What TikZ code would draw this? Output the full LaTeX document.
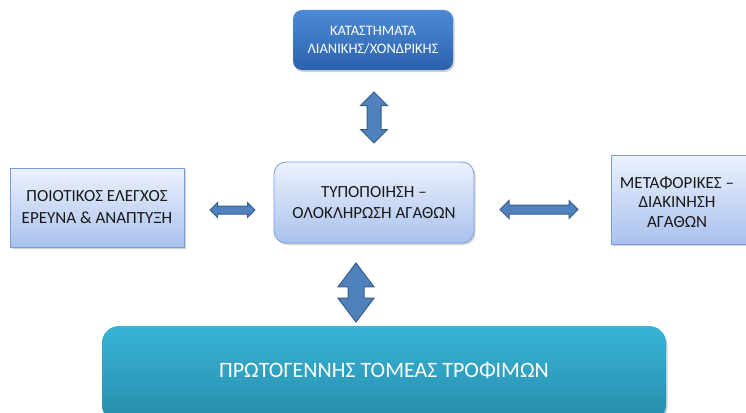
\documentclass[tikz,border=0pt]{standalone}
\usepackage{fontspec}
\setmainfont{Carlito}
\usetikzlibrary{shapes.arrows,shadows,calc}
\definecolor{storetop}{RGB}{76,138,214}
\definecolor{storebottom}{RGB}{44,98,172}
\definecolor{paletop}{RGB}{236,242,253}
\definecolor{palebottom}{RGB}{170,193,238}
\definecolor{paleedge}{RGB}{120,155,222}
\definecolor{sectortop}{RGB}{56,180,214}
\definecolor{sectorbottom}{RGB}{40,140,172}
\definecolor{arrowfill}{RGB}{79,129,189}
\definecolor{arrowedge}{RGB}{56,93,138}
\definecolor{darktext}{RGB}{25,25,25}
\tikzset{
  box/.style={align=center, inner sep=0pt, drop shadow={shadow xshift=1.5pt, shadow yshift=-2pt, opacity=0.35}},
  storebox/.style={box, rounded corners=9pt, top color=storetop, bottom color=storebottom, text=white, font=\fontsize{14.5}{18}\selectfont},
  palebox/.style={box, draw=paleedge, line width=0.8pt, top color=paletop, bottom color=palebottom, text=darktext, font=\fontsize{17}{22}\selectfont},
  sectorbox/.style={box, rounded corners=17pt, top color=sectortop, bottom color=sectorbottom, text=white},
  linkarrow/.style={double arrow, draw=arrowedge, fill=arrowfill, line width=1pt, inner xsep=0pt}
}

\begin{document}
\begin{tikzpicture}[x=1pt, y=-1pt]
  \useasboundingbox (0,0) rectangle (746,412);
  \clip (0,0) rectangle (746,412);

  % =======================
  % Boxes
  % =======================
  \node[storebox, minimum width=160pt, minimum height=60pt] (stores) at (373,40)
    {ΚΑΤΑΣΤΗΜΑΤΑ\\ΛΙΑΝΙΚΗΣ/ΧΟΝΔΡΙΚΗΣ};
  \node[palebox, rounded corners=12pt, minimum width=200pt, minimum height=81pt, font=\fontsize{17}{21}\selectfont] (packing) at (374,202.5)
    {ΤΥΠΟΠΟΙΗΣΗ --\\ΟΛΟΚΛΗΡΩΣΗ ΑΓΑΘΩΝ};
  \node[palebox, minimum width=174pt, minimum height=79pt] (quality) at (97,207.5)
    {ΠΟΙΟΤΙΚΟΣ ΕΛΕΓΧΟΣ\\ΕΡΕΥΝΑ \& ΑΝΑΠΤΥΞΗ};
  \node[palebox, minimum width=160pt, minimum height=89pt] (transport) at (691,199.5) {};
  \node[text=darktext, font=\fontsize{17}{19.5}\selectfont, align=center] (transporttext) at (677,202)
    {ΜΕΤΑΦΟΡΙΚΕΣ --\\ΔΙΑΚΙΝΗΣΗ\\ΑΓΑΘΩΝ};
  \node[sectorbox, minimum width=564pt, minimum height=96pt] (primary) at (384,374) {};
  \node[text=white, font=\fontsize{22}{26}\selectfont] (primarytext) at (384,370)
    {ΠΡΩΤΟΓΕΝΝΗΣ ΤΟΜΕΑΣ ΤΡΟΦΙΜΩΝ};

  % =======================
  % Block arrows
  % =======================
  \node[linkarrow, rotate=90, minimum height=51pt, inner ysep=6.5pt, double arrow head extend=6.5pt] (uplink) at (374,117.5) {};
  \node[linkarrow, minimum height=45pt, inner ysep=3.5pt, double arrow head extend=3.5pt] (leftlink) at (232.5,210) {};
  \node[linkarrow, minimum height=78pt, inner ysep=4pt, double arrow head extend=4.5pt] (rightlink) at (539,209.5) {};
  \node[linkarrow, rotate=90, minimum height=59pt, inner ysep=7.5pt, double arrow head extend=10pt, double arrow tip angle=74] (downlink) at (356,292.5) {};

\end{tikzpicture}
\end{document}
